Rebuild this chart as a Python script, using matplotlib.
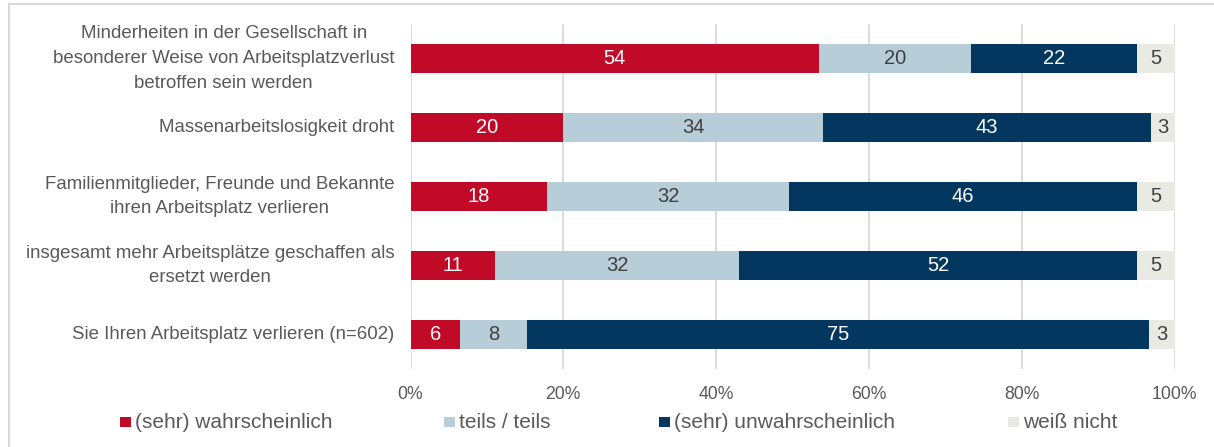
import matplotlib.pyplot as plt
from matplotlib.patches import Rectangle

plt.rcParams['font.family'] = ['Liberation Sans', 'DejaVu Sans']

# statements (top to bottom) and stacked shares in percent
categories = [
    'Minderheiten in der Gesellschaft in\nbesonderer Weise von Arbeitsplatzverlust\nbetroffen sein werden',
    'Massenarbeitslosigkeit droht',
    'Familienmitglieder, Freunde und Bekannte\nihren Arbeitsplatz verlieren',
    'insgesamt mehr Arbeitsplätze geschaffen als\nersetzt werden',
    'Sie Ihren Arbeitsplatz verlieren (n=602)',
]
series = ['(sehr) wahrscheinlich', 'teils / teils', '(sehr) unwahrscheinlich', 'weiß nicht']

wahrscheinlich = [53.5, 20.0, 17.9, 11.1, 6.5]
teils = [19.8, 34.0, 31.6, 31.9, 8.7]
unwahrscheinlich = [21.8, 42.9, 45.6, 52.1, 81.5]
weiss_nicht = [4.9, 3.1, 4.9, 4.9, 3.3]

# labels as printed in the chart
lab_wahr = [54, 20, 18, 11, 6]
lab_teils = [20, 34, 32, 32, 8]
lab_unwahr = [22, 43, 46, 52, 75]
lab_weiss = [5, 3, 5, 5, 3]

colors = ['#C00A27', '#B7CDD8', '#03375F', '#EAEAE4']
label_colors = ['white', '#404040', 'white', '#404040']
txt = '#595959'

fig = plt.figure(figsize=(12.14, 4.47), dpi=100)
ax = fig.add_axes([410.5 / 1214, 78 / 447, 764 / 1214, 345 / 447])

y = list(range(len(categories)))
left = [0.0] * len(categories)
for vals, labs, col, lcol in zip(
        [wahrscheinlich, teils, unwahrscheinlich, weiss_nicht],
        [lab_wahr, lab_teils, lab_unwahr, lab_weiss],
        colors, label_colors):
    ax.barh(y, vals, left=left, height=0.41, color=col, zorder=2)
    for i, (v, l) in enumerate(zip(vals, labs)):
        ax.text(left[i] + v / 2, i, str(l), ha='center', va='center',
                color=lcol, fontsize=14.5, zorder=3)
    left = [a + b for a, b in zip(left, vals)]

ax.set_xlim(0, 100)
ax.set_ylim(len(categories) - 0.5, -0.5)
ax.set_xticks([0, 20, 40, 60, 80, 100])
ax.set_xticklabels([f'{t}%' for t in [0, 20, 40, 60, 80, 100]])
ax.set_yticks(y)
ax.set_yticklabels(categories, ha='right', va='center', multialignment='center',
                   linespacing=1.6)
ax.tick_params(axis='x', length=0, pad=12, labelsize=12.7, labelcolor=txt)
ax.tick_params(axis='y', length=0, pad=11.5, labelsize=13.4, labelcolor=txt)
ax.grid(axis='x', color='#D9D9D9', linewidth=1.3, zorder=0)
ax.set_axisbelow(True)
for s in ax.spines.values():
    s.set_visible(False)

# legend drawn by hand to match the spaced-out entries
leg_x = [120, 444, 659, 1008]
for xpix, col, name in zip(leg_x, colors, series):
    fig.patches.append(Rectangle((xpix / 1214, (447 - 427) / 447), 11 / 1214, 10 / 447,
                                 transform=fig.transFigure, facecolor=col, edgecolor='none'))
    fig.text((xpix + 15) / 1214, (447 - 422) / 447, name, ha='left', va='center',
             fontsize=15, color=txt)

# outer frame
fig.patches.append(Rectangle((9 / 1214, -0.05), 1.1, 0.05 + (447 - 4) / 447,
                             transform=fig.transFigure, facecolor='none',
                             edgecolor='#D9D9D9', linewidth=1.5))

fig.savefig('out.png', dpi=100)
